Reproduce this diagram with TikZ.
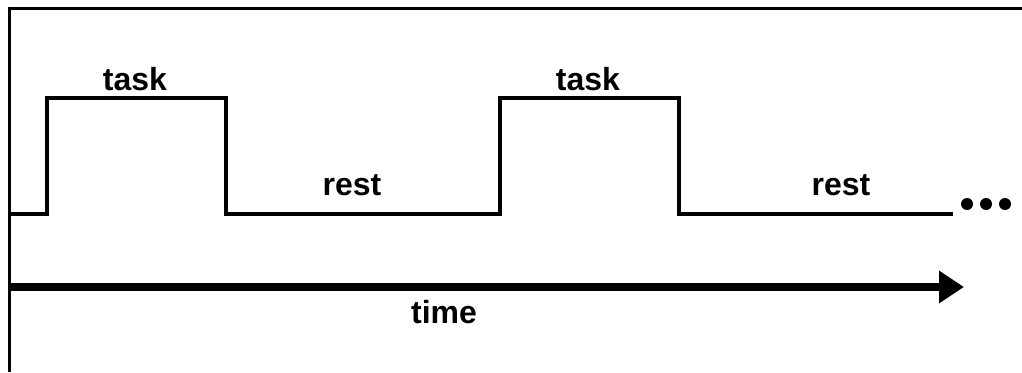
\documentclass[tikz,border=0pt]{standalone}
\usepackage{fontspec}
\setmainfont{Liberation Sans}
\usetikzlibrary{arrows.meta}
\begin{document}
\begin{tikzpicture}[x=1pt,y=-1pt,
  lbl/.style={font=\fontsize{32}{38}\selectfont\bfseries, anchor=base, inner sep=0pt},
  wave/.style={line width=4.5pt, line join=miter, line cap=butt},
  frame/.style={line width=3pt},
  timearrow/.style={line width=8pt, -{Triangle[length=25pt,width=31pt]}},
  dot/.style={circle, fill=black, minimum size=12pt, inner sep=0pt}]
\useasboundingbox (0,0) rectangle (1022,372);
% frame (left and top edges)
\coordinate (fb) at (9.5,372);
\coordinate (ft) at (9.5,8);
\coordinate (fr) at (1022,8);
\draw[frame] (fb) -- (ft) -- (fr);
% waveform
\coordinate (w0) at (10,214);
\coordinate (w1) at (47,214);
\coordinate (w2) at (47,98);
\coordinate (w3) at (226,98);
\coordinate (w4) at (226,214);
\coordinate (w5) at (500,214);
\coordinate (w6) at (500,98);
\coordinate (w7) at (679,98);
\coordinate (w8) at (679,214);
\coordinate (w9) at (953,214);
\draw[wave] (w0) -- (w1) -- (w2) -- (w3) -- (w4) -- (w5) -- (w6) -- (w7) -- (w8) -- (w9);
% dots
\node[dot] (d1) at (967,204) {};
\node[dot] (d2) at (986,204) {};
\node[dot] (d3) at (1005,204) {};
% labels
\node[lbl] (task1) at (135,90) {task};
\node[lbl] (task2) at (588,90) {task};
\node[lbl] (rest1) at (352,195) {rest};
\node[lbl] (rest2) at (841,195) {rest};
\node[lbl] (time) at (444,323) {time};
% time arrow
\coordinate (as) at (10,287);
\coordinate (ae) at (964,287);
\draw[timearrow] (as) -- (ae);
\end{tikzpicture}
\end{document}
